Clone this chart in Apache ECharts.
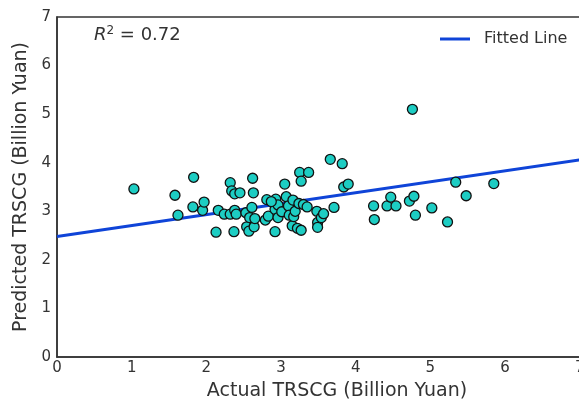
<!DOCTYPE html>
<html>
<head>
<meta charset="utf-8">
<script src="https://cdn.jsdelivr.net/npm/echarts@6/dist/echarts.min.js"></script>
<style>
  html, body { margin: 0; padding: 0; background: #fff; }
  #main { width: 579px; height: 404px; }
</style>
</head>
<body>
<div id="main"></div>
<script>
// actual vs predicted TRSCG (billion yuan)
var actual = [1.03, 1.58, 1.62, 1.83, 1.82, 1.95, 1.97, 2.13, 2.16, 2.24, 2.32, 2.38, 2.40, 2.32, 2.34, 2.38, 2.45, 2.37, 2.53, 2.54,
  2.57, 2.58, 2.61, 2.62, 2.63, 2.64, 2.65, 2.79, 2.83, 2.81, 2.93, 2.92, 2.96, 2.92, 2.87, 2.96, 3.01, 3.05, 3.07, 3.10,
  3.11, 3.15, 3.16, 3.17, 3.19, 3.22, 3.24, 3.25, 3.27, 3.27, 3.30, 3.35, 3.37, 3.48, 3.49, 3.49, 3.54, 3.57, 3.66, 3.71,
  3.82, 3.84, 3.90, 4.24, 4.25, 4.42, 4.47, 4.54, 4.72, 4.78, 4.76, 4.80, 5.02, 5.23, 5.34, 5.48, 5.85];
var predicted = [3.46, 3.33, 2.92, 3.70, 3.09, 3.02, 3.19, 2.57, 3.02, 2.94, 2.94, 3.02, 2.94, 3.59, 3.42, 3.36, 3.38, 2.58, 2.97, 2.68,
  2.59, 2.87, 3.08, 3.68, 3.38, 2.68, 2.85, 2.82, 2.90, 3.24, 3.25, 3.04, 3.13, 2.58, 3.20, 2.87, 2.99, 3.56, 3.30, 3.11,
  2.92, 2.70, 3.23, 2.89, 3.00, 2.65, 3.16, 3.80, 3.62, 2.61, 3.14, 3.09, 3.80, 3.00, 2.77, 2.67, 2.87, 2.95, 4.07, 3.08,
  3.98, 3.50, 3.56, 3.11, 2.83, 3.11, 3.29, 3.11, 3.21, 3.31, 5.10, 2.92, 3.07, 2.78, 3.60, 3.32, 3.57];
// fitted line end points (the plot runs a bit past 7, cut off by the image edge)
var fitX = [0, 7.5];
var fitY = [2.48, 4.17];
var xMax = 7.5;
var yMax = 7;

var font = "DejaVu Sans";
var myChart = echarts.init(document.getElementById("main"), null, { renderer: "canvas" });

var points = actual.map(function (x, i) { return [x, predicted[i]]; });
var fitLine = fitX.map(function (x, i) { return [x, fitY[i]]; });

var axisCommon = {
  type: "value",
  min: 0,
  interval: 1,
  axisLine: { show: true, lineStyle: { color: "#333", width: 1.5 } },
  axisTick: { show: false },
  splitLine: { show: false },
  axisLabel: {
    color: "#333", fontSize: 15, fontFamily: font,
    formatter: function (v) { return v % 1 === 0 ? String(v) : ""; }
  },
  nameLocation: "middle",
  nameTextStyle: { color: "#333", fontSize: 19, fontFamily: font }
};

var option = {
  backgroundColor: "#ffffff",
  animation: false,
  grid: {
    left: 57, top: 17, width: 560, height: 340,
    outerBoundsMode: "none",
    containLabel: false,
    show: true, borderColor: "#333", borderWidth: 1.5, backgroundColor: "transparent"
  },
  legend: {
    data: ["Fitted Line"],
    left: 440, top: 31, padding: 0,
    icon: "rect",
    itemWidth: 30, itemHeight: 3,
    textStyle: { color: "#333", fontSize: 16, fontFamily: font, padding: [0, 0, 0, 9] }
  },
  graphic: [{
    type: "text",
    left: 94, top: 25,
    style: {
      text: "{r|R}{s|2}{t| = 0.72}",
      rich: {
        r: { fontSize: 18, fontStyle: "italic", fontFamily: font, fill: "#333" },
        s: { fontSize: 12, fontFamily: font, fill: "#333", verticalAlign: "top", padding: [0, 0, 8, 0] },
        t: { fontSize: 18, fontFamily: font, fill: "#333" }
      }
    }
  }],
  xAxis: Object.assign({}, axisCommon, {
    max: xMax,
    name: "Actual TRSCG (Billion Yuan)",
    nameGap: 25,
    axisLabel: Object.assign({}, axisCommon.axisLabel, { margin: 4 })
  }),
  yAxis: Object.assign({}, axisCommon, {
    max: yMax,
    name: "Predicted TRSCG (Billion Yuan)",
    nameGap: 21,
    axisLabel: Object.assign({}, axisCommon.axisLabel, { margin: 6 })
  }),
  series: [
    {
      name: "Fitted Line",
      type: "line",
      data: fitLine,
      symbol: "none",
      lineStyle: { color: "#0f44d8", width: 3 },
      itemStyle: { color: "#0f44d8" },
      z: 2
    },
    {
      name: "Data",
      type: "scatter",
      data: points,
      symbolSize: 10,
      itemStyle: { color: "#1dcdc3", borderColor: "#111", borderWidth: 1.3, opacity: 1 },
      z: 3
    }
  ]
};
myChart.setOption(option, true);
</script>
</body>
</html>
